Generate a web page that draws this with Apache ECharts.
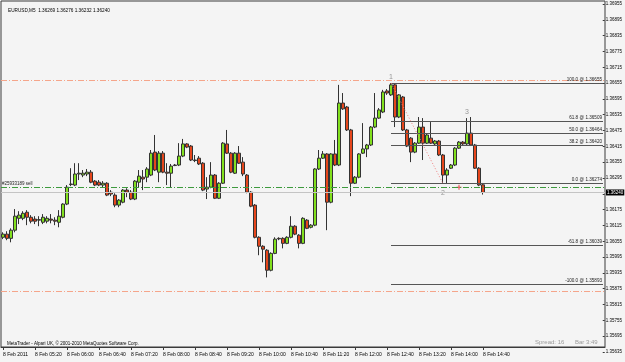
<!DOCTYPE html>
<html><head><meta charset="utf-8">
<script src="https://cdn.jsdelivr.net/npm/echarts@6/dist/echarts.min.js"></script>
<style>html,body{margin:0;padding:0;background:#f4f4f4}#c{width:625px;height:362px}</style>
</head><body><div id="c"></div>
<script>
// ---- data ----
const symbolTitle = 'EURUSD,M5  1.36269 1.36276 1.36232 1.36240';
const startHour = 4, startMinute = 40; // first bar 04:40, M5 bars
const futureBars = 30;                 // empty chart shift on the right
const tickLabels = ['8 Feb 2011','8 Feb 05:20','8 Feb 06:00','8 Feb 06:40','8 Feb 07:20','8 Feb 08:00','8 Feb 08:40','8 Feb 09:20','8 Feb 10:00','8 Feb 10:40','8 Feb 11:20','8 Feb 12:00','8 Feb 12:40','8 Feb 13:20','8 Feb 14:00','8 Feb 14:40'];
const opens = [1.36070,1.36082,1.36066,1.36097,1.36142,1.36142,1.36165,1.36146,1.36139,1.36135,
1.36127,1.36131,1.36139,1.36135,1.36127,1.36146,1.36196,1.36272,1.36268,1.36310,
1.36306,1.36310,1.36317,1.36283,1.36279,1.36268,1.36275,1.36241,1.36230,1.36192,
1.36203,1.36249,1.36241,1.36215,1.36279,1.36298,1.36298,1.36306,1.36393,1.36317,
1.36389,1.36317,1.36313,1.36344,1.36344,1.36378,1.36424,1.36416,1.36363,1.36370,
1.36351,1.36253,1.36260,1.36306,1.36218,1.36275,1.36424,1.36389,1.36313,1.36389,
1.36355,1.36306,1.36241,1.36192,1.36070,1.36036,1.36021,1.35945,1.36009,1.36066,
1.36066,1.36047,1.36070,1.36112,1.36078,1.36047,1.36135,1.36108,1.36116,1.36329,
1.36370,1.36386,1.36203,1.36386,1.36344,1.36579,1.36564,1.36477,1.36275,1.36298,
1.36389,1.36405,1.36420,1.36488,1.36522,1.36545,1.36625,1.36610,1.36648,1.36526,
1.36602,1.36477,1.36446,1.36393,1.36427,1.36488,1.36427,1.36446,1.36424,1.36435,
1.36382,1.36306,1.36332,1.36344,1.36408,1.36431,1.36424,1.36465,1.36420,1.36332,
1.36269];
const closes = [1.36082,1.36066,1.36097,1.36150,1.36154,1.36161,1.36146,1.36131,1.36131,1.36137,
1.36146,1.36142,1.36135,1.36131,1.36150,1.36196,1.36260,1.36270,1.36310,1.36313,
1.36313,1.36317,1.36279,1.36268,1.36268,1.36275,1.36230,1.36234,1.36192,1.36211,
1.36249,1.36241,1.36215,1.36283,1.36302,1.36291,1.36329,1.36389,1.36325,1.36389,
1.36317,1.36313,1.36340,1.36342,1.36378,1.36424,1.36412,1.36363,1.36361,1.36348,
1.36249,1.36260,1.36306,1.36218,1.36275,1.36427,1.36389,1.36317,1.36389,1.36351,
1.36310,1.36241,1.36188,1.36070,1.36036,1.36025,1.35945,1.36009,1.36063,1.36064,
1.36047,1.36070,1.36112,1.36082,1.36047,1.36142,1.36104,1.36116,1.36329,1.36370,
1.36386,1.36203,1.36386,1.36344,1.36579,1.36557,1.36477,1.36275,1.36298,1.36386,
1.36405,1.36420,1.36488,1.36522,1.36553,1.36621,1.36617,1.36648,1.36526,1.36610,
1.36477,1.36416,1.36393,1.36427,1.36488,1.36427,1.36458,1.36427,1.36435,1.36382,
1.36306,1.36325,1.36344,1.36408,1.36431,1.36424,1.36465,1.36420,1.36332,1.36268,
1.36240];
const lows = [1.36063,1.36059,1.36051,1.36089,1.36120,1.36135,1.36116,1.36123,1.36120,1.36112,
1.36120,1.36123,1.36123,1.36116,1.36108,1.36142,1.36192,1.36264,1.36264,1.36287,
1.36298,1.36302,1.36275,1.36264,1.36264,1.36260,1.36226,1.36226,1.36184,1.36184,
1.36199,1.36222,1.36211,1.36211,1.36260,1.36249,1.36279,1.36302,1.36321,1.36279,
1.36313,1.36268,1.36260,1.36340,1.36340,1.36374,1.36408,1.36359,1.36355,1.36344,
1.36245,1.36215,1.36256,1.36215,1.36215,1.36272,1.36386,1.36313,1.36310,1.36348,
1.36302,1.36237,1.36184,1.36066,1.36002,1.35975,1.35918,1.35941,1.36006,1.36059,
1.36028,1.36044,1.36066,1.36078,1.36028,1.36044,1.36101,1.36104,1.36112,1.36325,
1.36367,1.36097,1.36199,1.36340,1.36340,1.36553,1.36473,1.36226,1.36272,1.36294,
1.36386,1.36374,1.36416,1.36484,1.36519,1.36541,1.36610,1.36606,1.36488,1.36522,
1.36473,1.36412,1.36355,1.36389,1.36424,1.36363,1.36424,1.36424,1.36420,1.36378,
1.36274,1.36275,1.36329,1.36340,1.36405,1.36420,1.36420,1.36416,1.36329,1.36264,
1.36232];
const highs = [1.36089,1.36093,1.36104,1.36177,1.36169,1.36169,1.36173,1.36154,1.36150,1.36150,
1.36158,1.36150,1.36158,1.36146,1.36173,1.36199,1.36268,1.36332,1.36351,1.36351,
1.36325,1.36329,1.36325,1.36287,1.36287,1.36283,1.36279,1.36249,1.36237,1.36215,
1.36253,1.36256,1.36249,1.36287,1.36325,1.36325,1.36336,1.36401,1.36458,1.36397,
1.36397,1.36351,1.36348,1.36348,1.36427,1.36443,1.36427,1.36420,1.36382,1.36378,
1.36355,1.36298,1.36355,1.36310,1.36279,1.36431,1.36477,1.36393,1.36393,1.36416,
1.36374,1.36310,1.36245,1.36196,1.36074,1.36040,1.36025,1.36013,1.36070,1.36070,
1.36070,1.36074,1.36150,1.36116,1.36082,1.36146,1.36139,1.36120,1.36332,1.36401,
1.36397,1.36389,1.36389,1.36439,1.36648,1.36617,1.36568,1.36481,1.36302,1.36389,
1.36503,1.36424,1.36492,1.36617,1.36560,1.36629,1.36632,1.36655,1.36652,1.36613,
1.36606,1.36481,1.36450,1.36431,1.36526,1.36522,1.36462,1.36507,1.36439,1.36439,
1.36386,1.36332,1.36348,1.36412,1.36435,1.36435,1.36522,1.36526,1.36424,1.36336,
1.36276];
const bidPrice = 1.36240;
const orderPrice = 1.36260;
const orderText = '#25933189 sell';
const stopLevels = [1.36667, 1.35866];
const fibHigh = 1.36655, fibLow = 1.36274;
const fibHighBar = 97, fibLowBar = 110;
const fibRatios = [100, 61.8, 50, 38.2, 0, -61.8, -100];
const waveLabels = [['1', 97, 1.36678], ['2', 110, 1.36239], ['3', 116, 1.36545]];
const orderMarkBar = 114;
const priceAxisMin = 1.35635, priceAxisMax = 1.36955, priceAxisStep = 0.0006;
const plotMin = 1.35654, plotMax = 1.36966;

// ---- build ----
const N = opens.length;
const cats = [];
for (let i = 0; i < N + futureBars; i++) {
  const m = startHour * 60 + startMinute + 5 * i;
  cats.push(String(Math.floor(m / 60)).padStart(2, '0') + ':' + String(m % 60).padStart(2, '0'));
}
const candles = opens.map((o, i) => [o, closes[i], lows[i], highs[i]]);
const showTick = (i) => i % 8 === 0 && i < N;
const font = 'Liberation Sans';
const dashDot = [6, 2, 1, 2];

const fibLines = fibRatios.map(r => {
  const v = fibLow + r / 100 * (fibHigh - fibLow);
  return [{coord: [cats[fibHighBar], v],
           lineStyle: {color: '#555', type: 'solid', width: 1},
           label: {show: true, position: 'insideEndTop', distance: 1, formatter: r.toFixed(1) + ' @ ' + v.toFixed(5), fontSize: 4.6, color: '#222', fontFamily: font}},
          {coord: [cats[N + futureBars - 1], v]}];
});

const chart = echarts.init(document.getElementById('c'));
chart.setOption({
  animation: false,
  backgroundColor: '#f4f4f4',
  title: [
    {text: symbolTitle, left: 3, top: 3, textStyle: {fontSize: 4.7, fontWeight: 'normal', color: '#000', fontFamily: font}},
    {text: 'MetaTrader - Alpari UK, \u00a9 2001-2010 MetaQuotes Software Corp.', left: 2, top: 336, textStyle: {fontSize: 4.5, fontWeight: 'normal', color: '#000', fontFamily: font}},
    {text: 'Spread: 16', left: 530, top: 334, textStyle: {fontSize: 6, fontWeight: 'normal', color: '#9a9a9a', fontFamily: font}},
    {text: 'Bar 3:49', left: 570, top: 334, textStyle: {fontSize: 6, fontWeight: 'normal', color: '#9a9a9a', fontFamily: font}}
  ],
  grid: [
    {left: 1, top: 1, width: 604, height: 346, show: true, borderColor: '#3a3a3a', borderWidth: 1, backgroundColor: 'transparent'},
    {left: 1, top: 4, width: 604, height: 348}
  ],
  xAxis: [
    {gridIndex: 0, type: 'category', data: cats, boundaryGap: true,
     axisLine: {show: true, lineStyle: {color: '#3a3a3a'}},
     axisTick: {show: true, alignWithLabel: true, interval: showTick, length: 3, lineStyle: {color: '#3a3a3a'}},
     axisLabel: {interval: showTick, formatter: (v, i) => tickLabels[i / 8] || '', fontSize: 5, color: '#000', align: 'left', margin: 5, fontFamily: font},
     splitLine: {show: false}},
    {gridIndex: 1, type: 'category', data: cats, show: false}
  ],
  yAxis: [
    {gridIndex: 0, type: 'value', min: plotMin, max: plotMax, show: false, splitLine: {show: false}},
    {gridIndex: 1, type: 'value', position: 'right', min: priceAxisMin, max: priceAxisMax, interval: priceAxisStep,
     axisLine: {show: false}, axisTick: {show: true, length: 2, lineStyle: {color: '#3a3a3a'}},
     splitLine: {show: false},
     axisLabel: {fontSize: 4.5, color: '#000', margin: 3, fontFamily: font,
       formatter: v => Math.abs(v - bidPrice) < 0.0001 ? '' : v.toFixed(5)}}
  ],
  series: [
    {type: 'line', xAxisIndex: 0, yAxisIndex: 0, data: [], silent: true,
     markLine: {symbol: 'none', silent: true, animation: false, precision: 6,
       data: [
         {yAxis: stopLevels[0], lineStyle: {color: '#f5a58a', type: dashDot, width: 1}, label: {show: false}},
         {yAxis: stopLevels[1], lineStyle: {color: '#f5a58a', type: dashDot, width: 1}, label: {show: false}},
         {yAxis: bidPrice, lineStyle: {color: '#c4c4c4', type: 'solid', width: 1},
          label: {show: true, position: 'end', distance: 1, formatter: bidPrice.toFixed(5), fontSize: 4.5, color: '#fff', backgroundColor: '#000', padding: [1, 1, 0, 1], fontFamily: font}},
         {yAxis: orderPrice, lineStyle: {color: '#3d9a3d', type: dashDot, width: 1},
          label: {show: true, position: 'insideStartTop', distance: 1, formatter: orderText, fontSize: 4.5, color: '#222', fontFamily: font}}
       ]}},
    {type: 'candlestick', xAxisIndex: 0, yAxisIndex: 0, data: candles, barWidth: 3,
     itemStyle: {color: '#82e01e', color0: '#e6461c', borderColor: '#333', borderColor0: '#333', borderWidth: 1},
     markLine: {symbol: 'none', silent: true, animation: false, precision: 6,
       data: [
         ...fibLines,
         [{coord: [cats[fibHighBar], fibHigh], lineStyle: {color: '#f08080', type: [1, 2], width: 1}, label: {show: false}},
          {coord: [cats[fibLowBar], fibLow]}]
       ]}},
    {type: 'scatter', xAxisIndex: 0, yAxisIndex: 0, symbolSize: 0, silent: true,
     data: waveLabels.map(w => ({name: w[0], value: [cats[w[1]], w[2]]})),
     label: {show: true, position: 'inside', formatter: p => p.name, fontSize: 7, color: '#808080', fontFamily: font}},
    {type: 'scatter', xAxisIndex: 0, yAxisIndex: 0, silent: true, symbol: 'path://M2,0H3V2H5V3H3V5H2V3H0V2H2Z', symbolSize: 5,
     itemStyle: {color: '#e02020'}, data: [[cats[orderMarkBar], orderPrice]]}
  ]
});
</script></body></html>
